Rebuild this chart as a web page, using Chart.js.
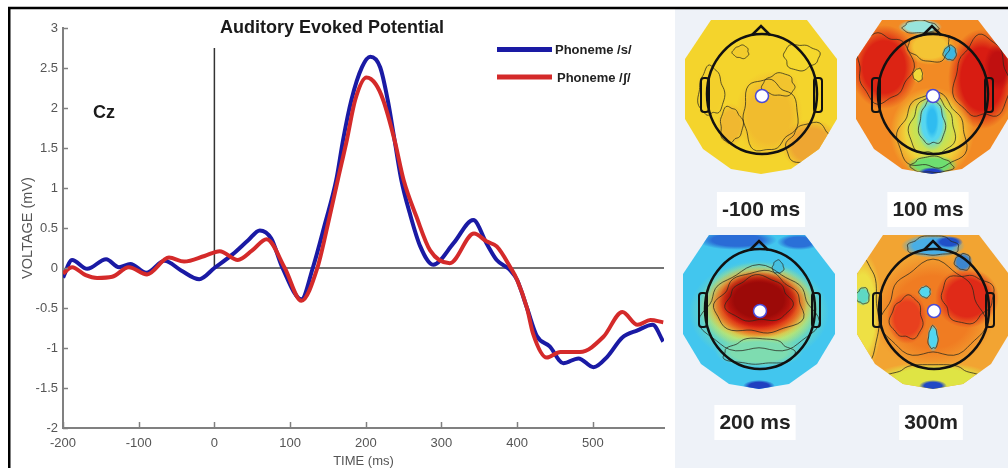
<!DOCTYPE html>
<html>
<head>
<meta charset="utf-8">
<title>Auditory Evoked Potential</title>
<script src="https://cdn.jsdelivr.net/npm/chart.js@4.4.1/dist/chart.umd.min.js"></script>
<style>
  html, body { margin: 0; padding: 0; background: #fff; }
  #wrap { width: 1008px; height: 468px; position: relative; }
</style>
</head>
<body>
<div id="wrap"><canvas id="aep"></canvas></div>
<script>
// Cz grand average, time in ms, voltage in mV
const sTimes = [-200, -188, -168, -143, -126, -111, -90, -66, -44, -20,
  0, 24, 45, 60, 75, 90, 115, 130, 146, 161,
  170, 181, 195, 206, 219, 229, 238, 247, 258, 272,
  289, 316, 342, 360, 373, 391, 400, 413, 426, 443,
  461, 481, 501, 519, 539, 559, 579, 593];
const sVolts = [-0.12, 0.1, -0.01, 0.11, 0.01, 0.05, -0.06, 0.09, -0.03, -0.14,
  0, 0.17, 0.35, 0.47, 0.37, 0, -0.39, 0, 0.55, 1.1,
  1.6, 2.1, 2.51, 2.64, 2.51, 2.1, 1.6, 1.1, 0.69, 0.27,
  0.04, 0.31, 0.6, 0.3, 0.1, -0.03, -0.15, -0.5, -0.85, -0.98,
  -1.19, -1.13, -1.24, -1.11, -0.87, -0.78, -0.71, -0.92];

const shTimes = [-200, -188, -170, -155, -135, -113, -89, -60, -40, -13,
  7, 31, 50, 69, 93, 115, 136, 150, 163, 175,
  186, 201, 213, 223, 238, 250, 267, 285, 311, 343,
  360, 373, 391, 400, 413, 421, 439, 457, 483, 514,
  539, 559, 576, 593];
const shVolts = [-0.07, 0.01, -0.09, -0.125, -0.11, 0.01, -0.08, 0.13, 0.08, 0.15,
  0.21, 0.1, 0.22, 0.36, 0, -0.41, 0, 0.55, 1.1, 1.6,
  2.1, 2.38, 2.3, 2.1, 1.6, 1.1, 0.64, 0.22, 0.06, 0.43,
  0.33, 0.27, 0.01, -0.15, -0.5, -0.82, -1.12, -1.05, -1.05, -0.86,
  -0.55, -0.71, -0.65, -0.68];

const seriesNames = ['Phoneme /s/', 'Phoneme /\u0283/'];
const seriesColors = ['#1a1aa4', '#d42a2a'];

// stimulus onset marker and baseline
const onsetTimes = [0, 0];
const onsetVolts = [0, 2.75];
const baseTimes = [0, 594];
const baseVolts = [0, 0];

const xTicks = [-200, -100, 0, 100, 200, 300, 400, 500];
const yTicks = [-2, -1.5, -1, -0.5, 0, 0.5, 1, 1.5, 2, 2.5, 3];

const mapLabels = ['-100 ms', '100 ms', '200 ms', '300m'];

const FONT = '"Liberation Sans", Arial, sans-serif';

function toPoints(xs, ys) {
  return xs.map((x, i) => ({ x: x, y: ys[i] }));
}

// ---------- scalp maps ----------
const mapShape = [[-50, -77], [46, -77], [76, -38], [76, 22], [58, 52], [30, 72], [0, 77],
  [-30, 72], [-58, 52], [-76, 22], [-76, -38]];

// each patch: offset, radii, colour, contour line
const maps = [
  { cx: 761, cy: 97, base: '#f4d42c', patches: [
    { x: 8, y: 18, rx: 34, ry: 44, c: '#f1bc2e', line: true },
    { x: 50, y: 48, rx: 30, ry: 26, c: '#eea632', line: true },
    { x: -30, y: 28, rx: 14, ry: 22, c: '#f0b830', line: true },
    { x: 18, y: -12, rx: 20, ry: 14, c: '#f2c42e', line: true },
    { x: -20, y: -45, rx: 10, ry: 8, c: '#f3cc2c', line: true },
    { x: 40, y: -40, rx: 22, ry: 16, c: '#f5d82c', line: true },
    { x: -50, y: -5, rx: 16, ry: 30, c: '#f3d02c', line: true }
  ] },
  { cx: 932, cy: 97, base: '#f28a24', patches: [
    { x: -48, y: -30, rx: 34, ry: 42, c: '#dc2414', line: true },
    { x: 50, y: -18, rx: 34, ry: 50, c: '#d81c12', line: true },
    { x: 66, y: -30, rx: 14, ry: 24, c: '#c01010', line: false },
    { x: -2, y: -50, rx: 26, ry: 18, c: '#f4c434', line: true },
    { x: -12, y: -70, rx: 22, ry: 8, c: '#98e4dc', line: true },
    { x: 18, y: -44, rx: 8, ry: 9, c: '#3cb6e0', line: true },
    { x: -14, y: -22, rx: 6, ry: 8, c: '#f0d838', line: true },
    { x: 0, y: 36, rx: 42, ry: 46, c: '#f0d43a', line: true },
    { x: 0, y: 30, rx: 28, ry: 36, c: '#c6e254', line: true },
    { x: 0, y: 26, rx: 16, ry: 28, c: '#56d6f0', line: true },
    { x: 0, y: 24, rx: 7, ry: 18, c: '#2fbcf0', line: false },
    { x: 0, y: 68, rx: 26, ry: 10, c: '#6ede70', line: true },
    { x: 0, y: 76, rx: 14, ry: 6, c: '#2040c8', line: false }
  ] },
  { cx: 759, cy: 312, base: '#42c6ee', patches: [
    { x: -22, y: -72, rx: 40, ry: 10, c: '#2a6cd6', line: false },
    { x: 40, y: -70, rx: 22, ry: 8, c: '#2a70d8', line: false },
    { x: 0, y: 0, rx: 70, ry: 52, c: '#86e0a0', line: true },
    { x: 0, y: -6, rx: 60, ry: 44, c: '#ecea48', line: false },
    { x: 0, y: -8, rx: 54, ry: 38, c: '#f08424', line: true },
    { x: 0, y: -8, rx: 48, ry: 34, c: '#d81c12', line: false },
    { x: 0, y: -12, rx: 40, ry: 28, c: '#9c0a08', line: true },
    { x: 19, y: -45, rx: 7, ry: 8, c: '#46c0e0', line: true },
    { x: 0, y: 40, rx: 44, ry: 16, c: '#7edcb0', line: true },
    { x: 0, y: 74, rx: 16, ry: 6, c: '#2040c0', line: false }
  ] },
  { cx: 933, cy: 312, base: '#f2a432', patches: [
    { x: -70, y: 0, rx: 20, ry: 60, c: '#eee044', line: true },
    { x: 0, y: 66, rx: 60, ry: 16, c: '#dfe444', line: true },
    { x: 0, y: 0, rx: 62, ry: 58, c: '#f07c22', line: true },
    { x: 34, y: -14, rx: 32, ry: 30, c: '#e02a18', line: true },
    { x: -26, y: 6, rx: 20, ry: 26, c: '#e8401e', line: true },
    { x: 0, y: -66, rx: 32, ry: 12, c: '#48aee6', line: true },
    { x: 16, y: -70, rx: 14, ry: 6, c: '#2050c8', line: false },
    { x: 30, y: -50, rx: 10, ry: 10, c: '#3c86d0', line: true },
    { x: -70, y: -16, rx: 8, ry: 10, c: '#5ed8c4', line: true },
    { x: -8, y: -20, rx: 7, ry: 7, c: '#52d6ee', line: true },
    { x: 0, y: 26, rx: 6, ry: 14, c: '#52d6f0', line: true },
    { x: 0, y: 74, rx: 14, ry: 6, c: '#2048c4', line: false }
  ] }
];

function clear(hex) {
  const n = parseInt(hex.slice(1), 16);
  return 'rgba(' + (n >> 16) + ',' + ((n >> 8) & 255) + ',' + (n & 255) + ',0)';
}

function wobblePath(ctx, cx, cy, p, k) {
  ctx.beginPath();
  for (let i = 0; i <= 60; i++) {
    const a = i / 60 * Math.PI * 2;
    const w = 1 + 0.09 * Math.sin(3 * a + p.x) + 0.05 * Math.sin(7 * a + p.y);
    const px = cx + p.x + Math.cos(a) * p.rx * k * w;
    const py = cy + p.y + Math.sin(a) * p.ry * k * w;
    if (i) ctx.lineTo(px, py); else ctx.moveTo(px, py);
  }
  ctx.closePath();
}

function drawMap(ctx, m) {
  const { cx, cy } = m;
  ctx.save();
  ctx.beginPath();
  mapShape.forEach(([dx, dy], i) => i ? ctx.lineTo(cx + dx, cy + dy) : ctx.moveTo(cx + dx, cy + dy));
  ctx.closePath();
  ctx.clip();
  ctx.fillStyle = m.base;
  ctx.fillRect(cx - 80, cy - 80, 160, 160);

  m.patches.forEach(p => {
    ctx.save();
    ctx.translate(cx + p.x, cy + p.y);
    ctx.scale(1, p.ry / p.rx);
    const g = ctx.createRadialGradient(0, 0, 0, 0, 0, p.rx);
    g.addColorStop(0, p.c);
    g.addColorStop(0.62, p.c);
    g.addColorStop(1, clear(p.c));
    ctx.fillStyle = g;
    ctx.beginPath();
    ctx.arc(0, 0, p.rx, 0, Math.PI * 2);
    ctx.fill();
    ctx.restore();
  });

  ctx.strokeStyle = 'rgba(40,40,30,0.75)';
  ctx.lineWidth = 1;
  m.patches.filter(p => p.line).forEach(p => {
    wobblePath(ctx, cx, cy, p, 0.8);
    ctx.stroke();
  });
  ctx.restore();

  // head outline, nose, ears
  ctx.save();
  ctx.strokeStyle = '#111';
  ctx.lineWidth = 2.5;
  ctx.beginPath();
  ctx.ellipse(cx + 1, cy - 3, 55, 60, 0, 0, Math.PI * 2);
  ctx.stroke();
  ctx.beginPath();
  ctx.moveTo(cx - 9, cy - 62);
  ctx.lineTo(cx, cy - 71);
  ctx.lineTo(cx + 9, cy - 62);
  ctx.stroke();
  ctx.lineWidth = 2;
  ctx.beginPath();
  ctx.roundRect(cx - 60, cy - 19, 8, 34, 3);
  ctx.roundRect(cx + 53, cy - 19, 8, 34, 3);
  ctx.stroke();
  // Cz electrode
  ctx.fillStyle = '#fff';
  ctx.strokeStyle = '#4a4ad8';
  ctx.lineWidth = 1.5;
  ctx.beginPath();
  ctx.arc(cx + 1, cy - 1, 6.5, 0, Math.PI * 2);
  ctx.fill();
  ctx.stroke();
  ctx.restore();
}

function drawMapLabel(ctx, text, x, y) {
  ctx.save();
  ctx.font = 'bold 21px ' + FONT;
  const w = ctx.measureText(text).width;
  ctx.fillStyle = '#fff';
  ctx.fillRect(x - w / 2 - 5, y - 18, w + 10, 35);
  ctx.fillStyle = '#222';
  ctx.textAlign = 'center';
  ctx.textBaseline = 'middle';
  ctx.fillText(text, x, y);
  ctx.restore();
}

// frame, map panel and scalp maps behind the plot
const backdrop = {
  id: 'backdrop',
  beforeDraw(chart) {
    const ctx = chart.ctx;
    ctx.save();
    ctx.fillStyle = '#eef2f8';
    ctx.fillRect(675, 9, 333, 459);
    ctx.strokeStyle = '#000';
    ctx.lineWidth = 2.5;
    ctx.beginPath();
    ctx.moveTo(9.25, 468);
    ctx.lineTo(9.25, 8);
    ctx.lineTo(1008, 8);
    ctx.stroke();
    ctx.restore();

    maps.forEach(m => drawMap(ctx, m));
    drawMapLabel(ctx, mapLabels[0], 761, 210);
    drawMapLabel(ctx, mapLabels[1], 928, 210);
    drawMapLabel(ctx, mapLabels[2], 755, 423);
    drawMapLabel(ctx, mapLabels[3], 931, 423);
  }
};

// inward tick marks, titles, legend
const decorations = {
  id: 'decorations',
  afterDraw(chart) {
    const { ctx, scales: { x, y } } = chart;
    ctx.save();
    ctx.strokeStyle = '#808080';
    ctx.lineWidth = 1.5;
    y.ticks.forEach(t => {
      const py = Math.round(y.getPixelForValue(t.value)) + 0.5;
      ctx.beginPath();
      ctx.moveTo(x.left, py);
      ctx.lineTo(x.left + 5, py);
      ctx.stroke();
    });
    x.ticks.forEach(t => {
      const px = Math.round(x.getPixelForValue(t.value)) + 0.5;
      ctx.beginPath();
      ctx.moveTo(px, y.bottom);
      ctx.lineTo(px, y.bottom - 6);
      ctx.stroke();
    });

    // axis titles
    ctx.fillStyle = '#555';
    ctx.textAlign = 'center';
    ctx.textBaseline = 'middle';
    ctx.font = '13px ' + FONT;
    ctx.fillText('TIME (ms)', (x.left + x.right) / 2, 461);
    ctx.save();
    ctx.translate(28, (y.top + y.bottom) / 2);
    ctx.rotate(-Math.PI / 2);
    ctx.font = '14.5px ' + FONT;
    ctx.fillText('VOLTAGE (mV)', 0, 0);
    ctx.restore();

    // title and electrode name
    ctx.fillStyle = '#1a1a1a';
    ctx.textAlign = 'left';
    ctx.textBaseline = 'alphabetic';
    ctx.font = 'bold 18px ' + FONT;
    ctx.fillText('Auditory Evoked Potential', 220, 33);
    ctx.fillText('Cz', 93, 118);

    // legend
    const rows = [49.5, 77];
    chart.data.datasets.slice(0, 2).forEach((ds, i) => {
      ctx.strokeStyle = ds.borderColor;
      ctx.lineWidth = 5;
      ctx.beginPath();
      ctx.moveTo(497, rows[i]);
      ctx.lineTo(552, rows[i]);
      ctx.stroke();
      ctx.fillStyle = '#222';
      ctx.font = 'bold 13px ' + FONT;
      ctx.textBaseline = 'middle';
      ctx.fillText(ds.label, 555 + i * 2, rows[i] + 1);
    });
    ctx.restore();
  }
};

const curveStyle = {
  borderWidth: 4,
  pointRadius: 0,
  tension: 0.4,
  cubicInterpolationMode: 'monotone'
};

new Chart(document.getElementById('aep'), {
  type: 'line',
  data: {
    datasets: [
      { label: seriesNames[0], data: toPoints(sTimes, sVolts), borderColor: seriesColors[0], order: 2, ...curveStyle },
      { label: seriesNames[1], data: toPoints(shTimes, shVolts), borderColor: seriesColors[1], order: 1, ...curveStyle },
      { label: 'onset', data: toPoints(onsetTimes, onsetVolts), borderColor: '#333', borderWidth: 1.5, pointRadius: 0, order: 3 },
      { label: 'baseline', data: toPoints(baseTimes, baseVolts), borderColor: '#444', borderWidth: 1.5, pointRadius: 0, order: 3 }
    ]
  },
  options: {
    responsive: true,
    maintainAspectRatio: false,
    animation: false,
    events: [],
    layout: { padding: { left: 0, top: 28, right: 344, bottom: 0 } },
    plugins: { legend: { display: false }, tooltip: { enabled: false } },
    scales: {
      x: {
        type: 'linear',
        min: -200,
        max: 594,
        afterBuildTicks: s => { s.ticks = xTicks.map(v => ({ value: v })); },
        afterFit: s => { s.height = 40; },
        grid: { display: false, drawTicks: false },
        border: { display: true, color: '#808080', width: 2 },
        ticks: { color: '#555', padding: 8, maxRotation: 0, font: { family: FONT, size: 13 } }
      },
      y: {
        min: -2,
        max: 3,
        afterBuildTicks: s => { s.ticks = yTicks.map(v => ({ value: v })); },
        afterFit: s => { s.width = 63; },
        grid: { display: false, drawTicks: false },
        border: { display: true, color: '#808080', width: 2 },
        ticks: { color: '#555', padding: 5, font: { family: FONT, size: 13 }, callback: v => String(v) }
      }
    }
  },
  plugins: [backdrop, decorations]
});
</script>
</body>
</html>
